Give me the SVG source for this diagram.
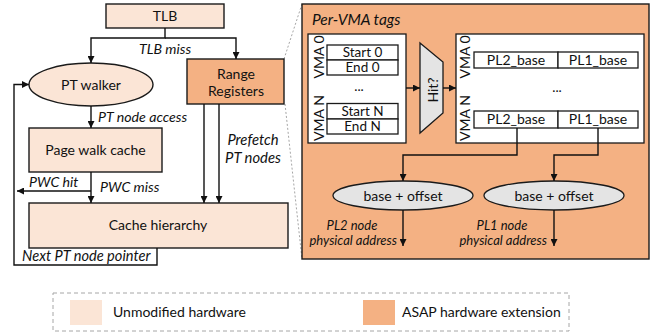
<svg xmlns="http://www.w3.org/2000/svg" width="658" height="335" viewBox="0 0 658 335">
<defs>
<marker id="ah" viewBox="0 0 10 10" refX="10" refY="5" markerWidth="7" markerHeight="7" markerUnits="userSpaceOnUse" orient="auto"><path d="M0,0 L10,5 L0,10 z" fill="#111"/></marker>
<style>
text{font-family:Lato,"Liberation Sans",sans-serif;fill:#111}
.t{font-size:14px;text-anchor:middle}
.s{font-size:13.5px;text-anchor:middle}
.v{font-size:14px;text-anchor:middle}
.i{font-size:14.2px;font-style:italic}
.j{font-size:13px;font-style:italic}
.lt{fill:#FBE5D6;stroke:#1a1a1a;stroke-width:1.4}
.or{fill:#F4B183;stroke:#1a1a1a;stroke-width:1.4}
.wh{fill:#fff;stroke:#1a1a1a;stroke-width:1.3}
.gr{fill:#E4E4E4;stroke:#1a1a1a;stroke-width:1.3}
.ca{fill:none;stroke:#111;stroke-width:1.4;marker-end:url(#ah)}
.d{fill:none;stroke:#a6a6a6;stroke-width:1;stroke-dasharray:2 2}
</style>
</defs>
<rect width="658" height="335" fill="#fff"/>

<g id="callout">
<path class="d" d="M284,59 L302,4"/>
<path class="d" d="M285,104 L302,259"/>
</g>

<g id="tlb"><rect class="lt" x="106" y="4" width="118" height="24"/><text class="t" x="165" y="21">TLB</text></g>
<g id="pt-walker"><ellipse class="lt" cx="91" cy="84.5" rx="62" ry="21.5"/><text class="t" x="91" y="89.5">PT walker</text></g>
<g id="range-registers"><rect class="or" x="187" y="59" width="97" height="45"/><text class="t" x="236" y="79">Range</text><text class="t" x="236" y="96">Registers</text></g>
<g id="page-walk-cache"><rect class="lt" x="29" y="128" width="133" height="44"/><text class="t" x="95.5" y="155">Page walk cache</text></g>
<g id="cache-hierarchy"><rect class="lt" x="29" y="203" width="259" height="45"/><text class="t" x="158" y="230">Cache hierarchy</text></g>

<g id="asap-panel">
<rect class="or" x="302" y="4" width="347" height="255"/>
<text class="i" x="312" y="25" style="font-size:15.5px">Per-VMA tags</text>
</g>

<g id="vma-tags">
<rect class="wh" x="308" y="34" width="98" height="109"/>
<text class="v" transform="translate(323.5,57) rotate(-90)">VMA 0</text>
<text class="v" transform="translate(323.5,118) rotate(-90)">VMA N</text>
<rect class="wh" x="327" y="45" width="71" height="15"/>
<rect class="wh" x="327" y="60" width="71" height="15"/>
<text class="s" x="362.5" y="57">Start 0</text>
<text class="s" x="362.5" y="72">End 0</text>
<text class="s" x="359" y="91">...</text>
<rect class="wh" x="327" y="103.5" width="71" height="15.5"/>
<rect class="wh" x="327" y="119" width="71" height="15"/>
<text class="s" x="362.5" y="116">Start N</text>
<text class="s" x="362.5" y="131">End N</text>
</g>

<g id="hit">
<path class="gr" d="M420,43 L443,62 L443,113 L420,133 Z"/>
<text class="v" transform="translate(437.5,90) rotate(-90)">Hit?</text>
</g>

<g id="base-table">
<rect class="wh" x="456" y="34" width="188" height="109"/>
<text class="v" transform="translate(470,57) rotate(-90)">VMA 0</text>
<text class="v" transform="translate(470,118) rotate(-90)">VMA N</text>
<rect class="wh" x="474" y="52" width="84" height="16"/>
<rect class="wh" x="558" y="52" width="80" height="16"/>
<text class="t" x="516" y="64.5">PL2_base</text>
<text class="t" x="598" y="64.5">PL1_base</text>
<text class="s" x="557" y="92">...</text>
<rect class="wh" x="474" y="111" width="84" height="17"/>
<rect class="wh" x="558" y="111" width="80" height="17"/>
<text class="t" x="516" y="124">PL2_base</text>
<text class="t" x="598" y="124">PL1_base</text>
</g>

<g id="pl2-adder"><ellipse class="gr" cx="403" cy="195.5" rx="70" ry="14.5"/><text class="t" x="403" y="200.5">base + offset</text></g>
<g id="pl1-adder"><ellipse class="gr" cx="554" cy="195.5" rx="70" ry="14.5"/><text class="t" x="554" y="200.5">base + offset</text></g>

<g id="connectors">
<path class="ca" d="M165,28 V38 H91 V63"/>
<path class="ca" d="M165,38 H236 V59"/>
<path class="ca" d="M91,106 V128"/>
<path class="ca" d="M91,172 V203"/>
<path class="ca" d="M91,191 H17"/>
<path class="ca" d="M204,104 V203"/>
<path class="ca" d="M219,104 V203"/>
<path class="ca" d="M157,248 V265 H14 V84.5 H29"/>
<path class="ca" d="M406,88 H420"/>
<path class="ca" d="M443,88 H456"/>
<path class="ca" d="M517,128 V155 H403 V181"/>
<path class="ca" d="M598,128 V155 H554 V181"/>
<path class="ca" d="M403,210 V246"/>
<path class="ca" d="M554,210 V246"/>
</g>

<g id="labels">
<text class="i" x="165" y="54" text-anchor="middle">TLB miss</text>
<text class="i" x="98" y="122">PT node access</text>
<text class="i" x="29" y="187">PWC hit</text>
<text class="i" x="100" y="192">PWC miss</text>
<text class="i" x="22" y="261" style="font-size:14.6px">Next PT node pointer</text>
<text class="i" x="253" y="145" text-anchor="middle" style="font-size:14.8px">Prefetch</text>
<text class="i" x="253" y="163" text-anchor="middle" style="font-size:14.8px">PT nodes</text>
<text class="j" x="352" y="230" text-anchor="middle">PL2 node</text>
<text class="j" x="397" y="245" text-anchor="end">physical address</text>
<text class="j" x="502" y="230" text-anchor="middle">PL1 node</text>
<text class="j" x="547" y="245" text-anchor="end">physical address</text>
</g>

<g id="legend">
<rect x="53" y="293" width="516" height="38" fill="none" stroke="#a6a6a6" stroke-width="1" stroke-dasharray="4 3"/>
<rect x="70" y="300" width="32" height="25" fill="#FBE5D6"/>
<text x="113" y="317" style="font-size:14px">Unmodified hardware</text>
<rect x="363" y="300" width="32" height="25" fill="#F4B183"/>
<text x="402" y="317" style="font-size:14px">ASAP hardware extension</text>
</g>
</svg>
